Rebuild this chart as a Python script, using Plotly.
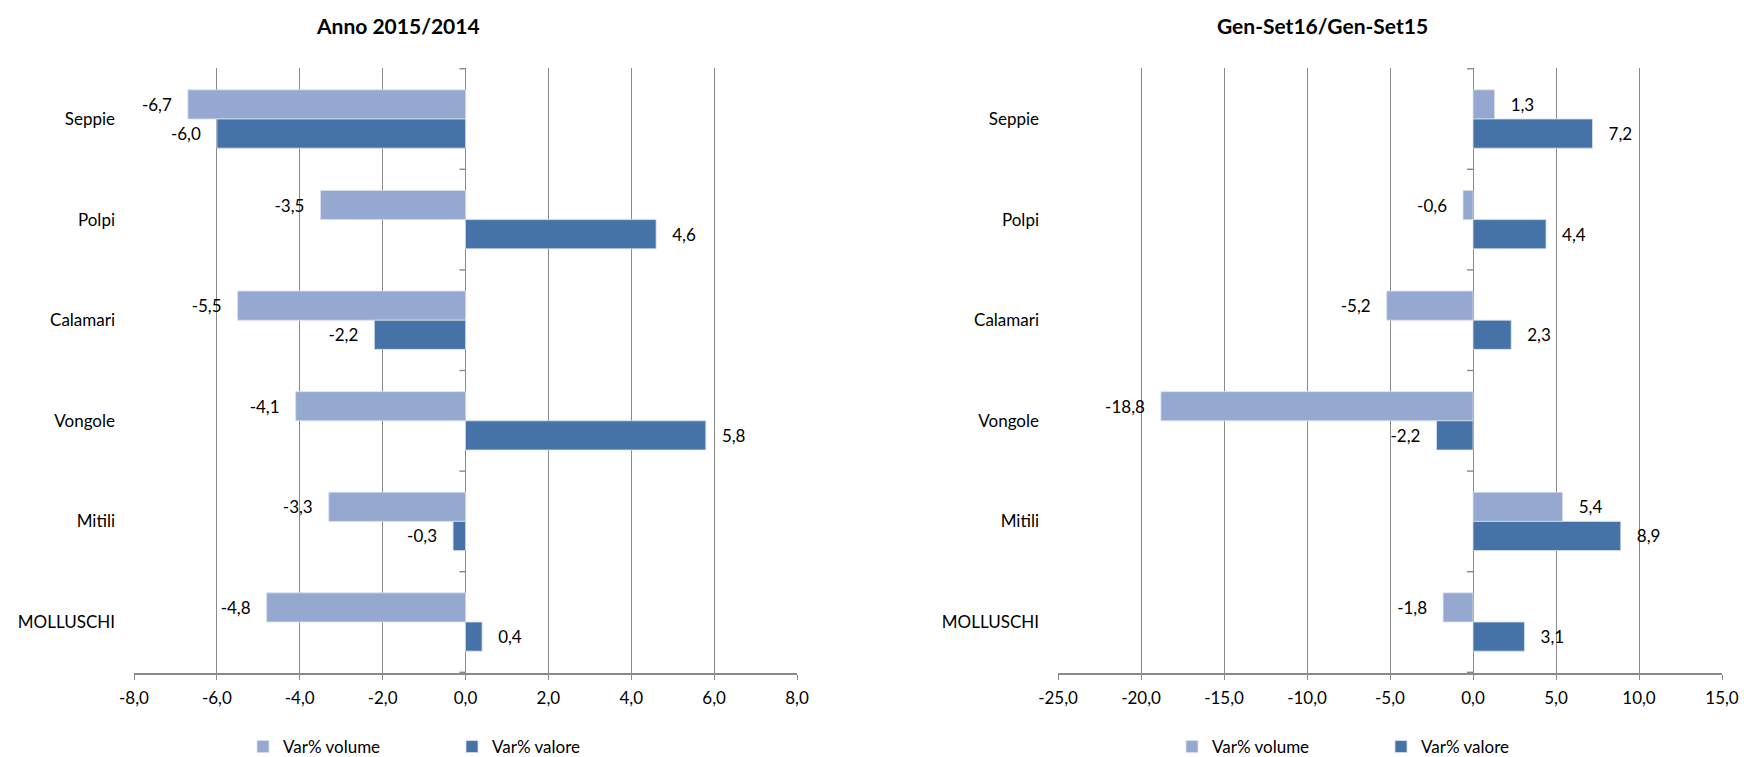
import plotly.graph_objects as go

# Categories, top to bottom
categories = ["Seppie", "Polpi", "Calamari", "Vongole", "Mitili", "MOLLUSCHI"]

# Anno 2015/2014
vol_2015 = [-6.7, -3.5, -5.5, -4.1, -3.3, -4.8]
val_2015 = [-6.0, 4.6, -2.2, 5.8, -0.3, 0.4]

# Gen-Set16/Gen-Set15
vol_2016 = [1.3, -0.6, -5.2, -18.8, 5.4, -1.8]
val_2016 = [7.2, 4.4, 2.3, -2.2, 8.9, 3.1]

# Axis ticks
ticks_2015 = [-8, -6, -4, -2, 0, 2, 4, 6, 8]
ticks_2016 = [-25, -20, -15, -10, -5, 0, 5, 10, 15]

series_names = ["Var% volume", "Var% valore"]
titles = ["Anno 2015/2014", "Gen-Set16/Gen-Set15"]

LIGHT = "#95A9D0"
DARK = "#4573A7"
GRID = "#8A8A8A"
FONT = "Lato, 'Open Sans', sans-serif"

W, H = 1744, 757

fig = go.Figure()


def fmt(v):
    # one decimal, comma separator, plain hyphen for negatives
    return f"{v:.1f}".replace(".", ",")


def add_bars(xaxis, yaxis, vol, val, legend):
    for name, vals, color in ((series_names[0], vol, LIGHT), (series_names[1], val, DARK)):
        fig.add_trace(go.Bar(
            name=name, y=categories, x=vals, orientation="h",
            xaxis=xaxis, yaxis=yaxis, legend=legend,
            marker=dict(color=color, line=dict(color="#D9E0EE", width=0.8)),
            text=[("\u00a0\u00a0\u00a0" + fmt(v)) if v >= 0 else (fmt(v) + "\u00a0\u00a0\u00a0") for v in vals],
            textposition="outside", cliponaxis=False, constraintext="none",
            textfont=dict(family=FONT, size=17, color="#000000"),
            hoverinfo="x+y",
        ))


add_bars("x", "y", vol_2015, val_2015, "legend")
add_bars("x2", "y2", vol_2016, val_2016, "legend2")

y_dom = [1 - 673 / H, 1 - 68 / H]

xaxis_common = dict(
    showgrid=True, gridcolor=GRID, gridwidth=1.4,
    zeroline=True, zerolinecolor=GRID, zerolinewidth=1.4,
    showline=True, linecolor=GRID, linewidth=1.6,
    ticks="outside", ticklen=5, tickcolor=GRID, tickwidth=1.4,
    ticklabelstandoff=4, automargin=False, tickmode="array",
    tickfont=dict(family=FONT, size=17, color="#000000"),
    fixedrange=True,
)
yaxis_common = dict(
    autorange="reversed", showgrid=False, zeroline=False, showline=False,
    ticks="", ticklabelstandoff=18, automargin=False,
    tickfont=dict(family=FONT, size=17, color="#000000"),
    domain=y_dom, fixedrange=True,
)

legend_common = dict(
    orientation="h", y=1 - 747 / H, xanchor="center", yanchor="middle",
    font=dict(family=FONT, size=17, color="#000000"), itemwidth=30,
    entrywidth=164, entrywidthmode="pixels", traceorder="normal",
    bgcolor="rgba(0,0,0,0)",
)

fig.update_layout(
    width=W, height=H,
    margin=dict(l=0, r=0, t=0, b=0, autoexpand=False),
    paper_bgcolor="white", plot_bgcolor="white",
    barmode="group", bargap=0.42, bargroupgap=0,
    font=dict(family=FONT, size=17, color="#000000"),
    xaxis=dict(domain=[134 / W, 797 / W], range=[ticks_2015[0], ticks_2015[-1]], anchor="y",
               tickvals=ticks_2015, ticktext=[fmt(t) for t in ticks_2015], **xaxis_common),
    yaxis=dict(anchor="x", **yaxis_common),
    xaxis2=dict(domain=[1058 / W, 1722 / W], range=[ticks_2016[0], ticks_2016[-1]], anchor="y2",
                tickvals=ticks_2016, ticktext=[fmt(t) for t in ticks_2016], **xaxis_common),
    yaxis2=dict(anchor="x2", **yaxis_common),
    legend=dict(x=452 / W, **legend_common),
    legend2=dict(x=1381 / W, **legend_common),
    showlegend=True,
)

# Chart titles
for tx, title in zip([398 / W, 1322 / W], titles):
    fig.add_annotation(text=f"<b>{title}</b>", x=tx, y=1 - 25 / H, xref="paper", yref="paper",
                       xanchor="center", yanchor="middle", showarrow=False,
                       font=dict(family=FONT, size=21, color="#000000"))

# Small tick marks on the category axis at the zero line, between categories
for xr, yr in (("x", "y"), ("x2", "y2")):
    for b in range(len(categories) + 1):
        fig.add_shape(type="line", xref=xr, yref=yr, xsizemode="pixel", xanchor=0,
                      x0=-6, x1=0, y0=b - 0.5, y1=b - 0.5,
                      line=dict(color=GRID, width=1.4))

fig.write_html("out.html")
